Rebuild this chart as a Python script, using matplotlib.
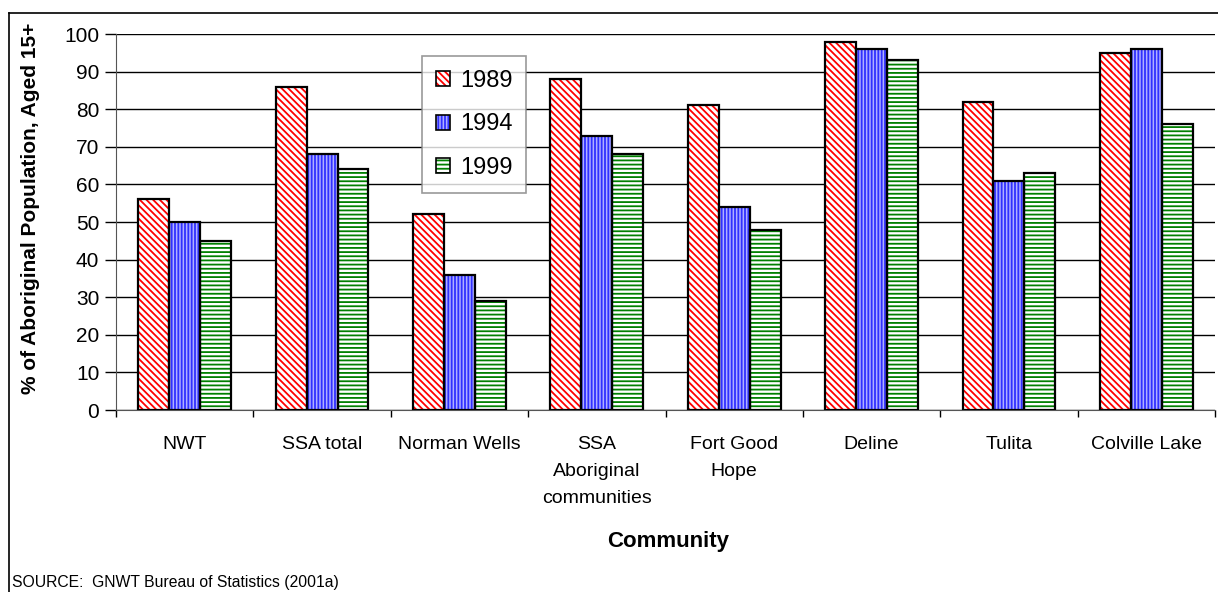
import numpy as np
import matplotlib.pyplot as plt
from matplotlib.patches import Patch
from matplotlib.lines import Line2D

plt.rcParams['font.family'] = ['Liberation Sans', 'DejaVu Sans']
plt.rcParams['hatch.linewidth'] = 1.3

communities = ["NWT", "SSA total", "Norman Wells", "SSA\nAboriginal\ncommunities",
               "Fort Good\nHope", "Deline", "Tulita", "Colville Lake"]
years = ["1989", "1994", "1999"]
pct_1989 = [56, 86, 52, 88, 81, 98, 82, 95]
pct_1994 = [50, 68, 36, 73, 54, 96, 61, 96]
pct_1999 = [45, 64, 29, 68, 48, 93, 63, 76]

# face colour, hatch colour, hatch pattern for each year
styles = [("white", "#ff0000", "\\\\\\\\\\"),
          ("#b0b0ff", "#3030ff", "|||||"),
          ("white", "#008000", "----")]

fig = plt.figure(figsize=(12.18, 5.92), dpi=100)
ax = fig.add_axes([116 / 1218, 182 / 592, 1099 / 1218, 376 / 592])

x = np.arange(len(communities))
w = 0.225
handles = []
for i, vals in enumerate([pct_1989, pct_1994, pct_1999]):
    face, hc, hatch = styles[i]
    pos = x + (i - 1) * w
    ax.bar(pos, vals, w, color=face, edgecolor=hc, hatch=hatch, linewidth=0, zorder=2)
    ax.bar(pos, vals, w, fill=False, edgecolor="black", linewidth=1.6, zorder=3)
    handles.append((Patch(facecolor=face, edgecolor=hc, hatch=hatch, linewidth=0),
                    Patch(fill=False, edgecolor="black", linewidth=1.2)))

ax.set_xlim(-0.5, len(communities) - 0.5)
ax.set_ylim(0, 100)
ax.set_yticks(range(0, 101, 10))
ax.tick_params(axis="y", labelsize=15, direction="out", length=8, width=1, pad=4)
ax.set_xticks(x)
ax.set_xticklabels(communities, fontsize=14, linespacing=1.75, va="top")
ax.tick_params(axis="x", length=0, pad=19)
ax.set_xticks(np.arange(len(communities) + 1) - 0.5, minor=True)
ax.tick_params(axis="x", which="minor", direction="out", length=5, width=1)
ax.yaxis.grid(True, color="black", linewidth=1, zorder=0)
ax.set_axisbelow(True)
for side in ["top", "right"]:
    ax.spines[side].set_visible(False)
ax.spines["left"].set_color("#555555")
ax.spines["bottom"].set_color("#555555")

leg = ax.legend(handles, years, loc="upper left", bbox_to_anchor=(422 / 1218, 1 - 56 / 592),
                bbox_transform=fig.transFigure, fontsize=17, frameon=True, fancybox=False,
                handlelength=0.6, handleheight=0.6, handletextpad=0.4,
                labelspacing=0.9, borderpad=0.6, borderaxespad=0)
leg.get_frame().set_edgecolor("#808080")
leg.get_frame().set_linewidth(1.2)

fig.text(31 / 1218, 1 - 208 / 592, "% of Aboriginal Population, Aged 15+", rotation=90,
         ha="center", va="center", fontsize=15, fontweight="bold")
fig.text(668 / 1218, 1 - 542 / 592, "Community", ha="center", va="center",
         fontsize=16, fontweight="bold")
fig.text(12 / 1218, 1 - 583 / 592, "SOURCE:  GNWT Bureau of Statistics (2001a)",
         ha="left", va="center", fontsize=11.3)

# chart area border, open at the right and bottom
fig.add_artist(Line2D([9 / 1218, 9 / 1218], [0, 1 - 13 / 592], color="black", linewidth=1.2))
fig.add_artist(Line2D([9 / 1218, 1], [1 - 13 / 592, 1 - 13 / 592], color="black", linewidth=1.2))

plt.savefig("out.png", dpi=100)
